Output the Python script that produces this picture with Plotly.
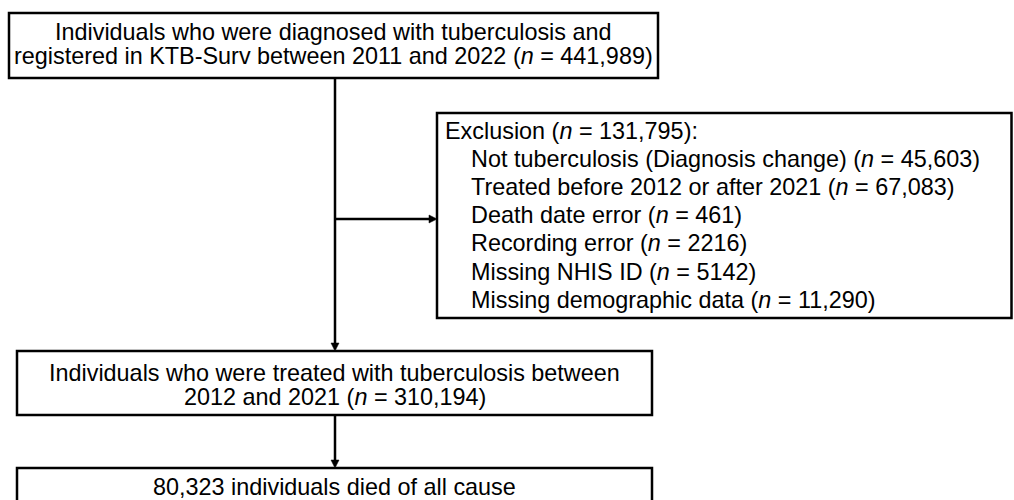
import plotly.graph_objects as go

# ---- data ----
n_registered = 441989
registered_years = ("2011", "2022")
exclusion_reasons = [
    "Not tuberculosis (Diagnosis change)",
    "Treated before 2012 or after 2021",
    "Death date error",
    "Recording error",
    "Missing NHIS ID",
    "Missing demographic data",
]
exclusion_counts = [45603, 67083, 461, 2216, 5142, 11290]
n_excluded = 131795
n_treated = 310194
treated_years = ("2012", "2021")
n_died = 80323


def fmt(v):
    return f"{v:,}" if v >= 10000 else str(v)


def ntext(v):
    return f"(<i>n</i> = {fmt(v)})"


box1_lines = [
    "Individuals who were diagnosed with tuberculosis and",
    f"registered in KTB-Surv between {registered_years[0]} and {registered_years[1]} {ntext(n_registered)}",
]
excl_lines = [f"Exclusion {ntext(n_excluded)}:"] + [
    f"{r} {ntext(c)}" for r, c in zip(exclusion_reasons, exclusion_counts)
]
box2_lines = [
    "Individuals who were treated with tuberculosis between",
    f"{treated_years[0]} and {treated_years[1]} {ntext(n_treated)}",
]
box3_lines = [f"{fmt(n_died)} individuals died of all cause"]

# ---- layout geometry ----
W, H = 1014, 500
FS = 23.4
FONT = dict(family="Liberation Sans, Arial, sans-serif", size=FS, color="black")
LW = 2.5
MID = 0.347 * FS  # baseline -> text bbox middle

fig = go.Figure()
shapes = []
annotations = []


def rect(x0, y0, x1, y1):
    shapes.append(dict(type="rect", xref="x", yref="y", x0=x0, y0=y0, x1=x1, y1=y1,
                       line=dict(color="black", width=LW), fillcolor="rgba(0,0,0,0)"))


def text(x, baseline, s, anchor="center"):
    annotations.append(dict(x=x, y=baseline - MID, xref="x", yref="y", text=s,
                            showarrow=False, xanchor=anchor, yanchor="middle",
                            font=FONT, borderpad=0))


def arrow(x0, y0, x1, y1, head=8, hw=4):
    if x0 == x1:
        d = 1 if y1 > y0 else -1
        shapes.append(dict(type="line", xref="x", yref="y", x0=x0, y0=y0, x1=x1, y1=y1 - d * head,
                           line=dict(color="black", width=LW)))
        shapes.append(dict(type="path", xref="x", yref="y",
                           path=f"M {x1-hw} {y1-d*head} L {x1+hw} {y1-d*head} L {x1} {y1} Z",
                           fillcolor="black", line=dict(color="black", width=0.5)))
    else:
        d = 1 if x1 > x0 else -1
        shapes.append(dict(type="line", xref="x", yref="y", x0=x0, y0=y0, x1=x1 - d * head, y1=y1,
                           line=dict(color="black", width=LW)))
        shapes.append(dict(type="path", xref="x", yref="y",
                           path=f"M {x1-d*head} {y1-hw} L {x1-d*head} {y1+hw} L {x1} {y1} Z",
                           fillcolor="black", line=dict(color="black", width=0.5)))


# box 1
rect(9, 13, 658, 78)
for i, s in enumerate(box1_lines):
    text(333.5, 40 + 24 * i, s)

# exclusion box
rect(437, 113, 1011.5, 318)
for i, s in enumerate(excl_lines):
    x = 443.5 if i == 0 else 470
    text(x, 139 + 28.15 * i, s, anchor="left")

# box 2
rect(17, 351, 652, 415)
for i, s in enumerate(box2_lines):
    text(334.5, 381 + 24 * i, s)

# box 3 (cut by bottom edge)
shapes.append(dict(type="path", xref="x", yref="y",
                   path="M 17 530 L 17 468 L 652 468 L 652 530",
                   line=dict(color="black", width=LW)))
for s in box3_lines:
    text(334.5, 495, s)

# arrows
arrow(335, 78, 335, 351)
arrow(335, 219, 437, 219)
arrow(335, 415, 335, 468)

fig.update_layout(
    width=W, height=H,
    margin=dict(l=0, r=0, t=0, b=0),
    paper_bgcolor="white", plot_bgcolor="white",
    xaxis=dict(range=[0, W], visible=False, fixedrange=True),
    yaxis=dict(range=[H, 0], visible=False, fixedrange=True),
    shapes=shapes, annotations=annotations,
    showlegend=False,
)

fig.write_html(
    "out.html",
    config={"displayModeBar": False},
    post_script="document.body.style.margin='0';document.body.style.overflow='hidden';",
)
